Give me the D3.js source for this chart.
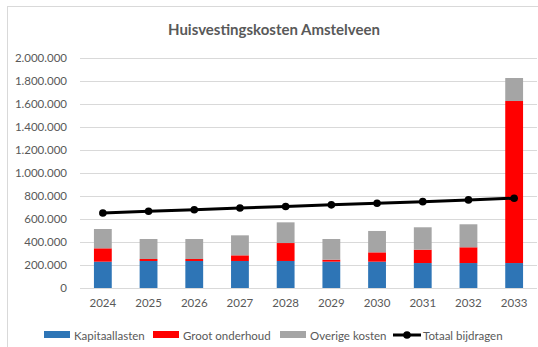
<!DOCTYPE html>
<html>
<head>
<meta charset="utf-8">
<script src="https://cdn.jsdelivr.net/npm/d3@7"></script>
<style>
  html, body { margin: 0; padding: 0; background: #fff; }
  svg { display: block; font-family: Lato, "Open Sans", sans-serif; }
</style>
</head>
<body>
<svg id="chart" width="538" height="347"></svg>
<script>
// Jaren en kostenposten (euro)
const years = ["2024", "2025", "2026", "2027", "2028", "2029", "2030", "2031", "2032", "2033"];
const kapitaallasten = [229000, 235000, 235000, 235000, 235000, 229000, 229000, 217000, 217000, 217000];
const grootOnderhoud = [116000, 17000, 17000, 49000, 156000, 17000, 81000, 116000, 137000, 1409000];
const overigeKosten = [168000, 174000, 174000, 174000, 180000, 180000, 186000, 195000, 200000, 200000];
const totaalBijdragen = [652000, 667000, 681000, 696000, 709000, 723000, 737000, 751000, 766000, 781000];
const yTicks = [0, 200000, 400000, 600000, 800000, 1000000, 1200000, 1400000, 1600000, 1800000, 2000000];

const seriesNames = ["Kapitaallasten", "Groot onderhoud", "Overige kosten"];
const seriesColors = ["#2e75b6", "#ff0000", "#a5a5a5"];

const svg = d3.select("#chart");
const W = 538, H = 347;
const margin = { left: 80, right: 1, top: 58, bottom: 59 };
const labelSize = 11.5;

// chart frame
svg.append("rect")
  .attr("x", 7.5).attr("y", 6.5)
  .attr("width", W + 20).attr("height", H + 20)
  .attr("fill", "#fff").attr("stroke", "#d9d9d9").attr("stroke-width", 1);

const x = d3.scaleBand().domain(years).range([margin.left, W - margin.right]).paddingInner(0.61).paddingOuter(0.305);
const y = d3.scaleLinear().domain([0, 2000000]).range([H - margin.bottom, margin.top]);

const fmt = v => d3.format(",")(v).replace(/,/g, ".");

// gridlines
svg.append("g")
  .selectAll("line").data(yTicks).join("line")
  .attr("x1", margin.left).attr("x2", W - margin.right)
  .attr("y1", d => Math.round(y(d)) + 0.5).attr("y2", d => Math.round(y(d)) + 0.5)
  .attr("stroke", "#d9d9d9").attr("stroke-width", 1);

// y axis labels
const yAxis = d3.axisLeft(y).tickValues(yTicks).tickFormat(fmt).tickSize(0).tickPadding(13);
svg.append("g")
  .attr("transform", `translate(${margin.left},0)`)
  .call(yAxis)
  .call(g => g.select(".domain").remove())
  .call(g => g.selectAll("text").attr("fill", "#595959").attr("font-size", labelSize).attr("font-family", "Lato, sans-serif"));

// stacked bars
const rows = years.map((yr, i) => ({
  year: yr,
  "Kapitaallasten": kapitaallasten[i],
  "Groot onderhoud": grootOnderhoud[i],
  "Overige kosten": overigeKosten[i]
}));
const stacked = d3.stack().keys(seriesNames)(rows);

svg.append("g")
  .selectAll("g").data(stacked).join("g")
  .attr("fill", (d, i) => seriesColors[i])
  .selectAll("rect").data(d => d).join("rect")
  .attr("x", d => x(d.data.year))
  .attr("width", x.bandwidth())
  .attr("y", d => y(d[1]))
  .attr("height", d => y(d[0]) - y(d[1]));

// x axis baseline and labels
svg.append("line")
  .attr("x1", margin.left).attr("x2", W - margin.right)
  .attr("y1", Math.round(y(0)) + 0.5).attr("y2", Math.round(y(0)) + 0.5)
  .attr("stroke", "#d9d9d9");

const xAxis = d3.axisBottom(x).tickSize(0).tickPadding(11);
svg.append("g")
  .attr("transform", `translate(0,${y(0)})`)
  .call(xAxis)
  .call(g => g.select(".domain").remove())
  .call(g => g.selectAll("text").attr("fill", "#595959").attr("font-size", labelSize).attr("font-family", "Lato, sans-serif"));

// total line
const cx = d => x(d) + x.bandwidth() / 2;
const line = d3.line().x((d, i) => cx(years[i])).y(d => y(d));
svg.append("path")
  .datum(totaalBijdragen)
  .attr("d", line)
  .attr("fill", "none").attr("stroke", "#000").attr("stroke-width", 3);
svg.append("g")
  .selectAll("circle").data(totaalBijdragen).join("circle")
  .attr("cx", (d, i) => cx(years[i])).attr("cy", d => y(d))
  .attr("r", 3.8).attr("fill", "#000");

// title
svg.append("text")
  .attr("x", 274).attr("y", 35)
  .attr("text-anchor", "middle")
  .attr("font-size", 15).attr("font-weight", "bold")
  .attr("fill", "#595959")
  .text("Huisvestingskosten Amstelveen");

// legend
const legendY = 335;
const legendItems = [
  { name: "Kapitaallasten", color: seriesColors[0], sx: 44, tx: 74 },
  { name: "Groot onderhoud", color: seriesColors[1], sx: 153, tx: 183 },
  { name: "Overige kosten", color: seriesColors[2], sx: 280, tx: 310 }
];
const lg = svg.append("g");
legendItems.forEach(it => {
  lg.append("rect").attr("x", it.sx).attr("y", legendY - 4).attr("width", 26).attr("height", 7).attr("fill", it.color);
  lg.append("text").attr("x", it.tx).attr("y", legendY + 4.5)
    .attr("font-size", labelSize).attr("fill", "#595959").text(it.name);
});
lg.append("line").attr("x1", 393).attr("x2", 421).attr("y1", legendY).attr("y2", legendY)
  .attr("stroke", "#000").attr("stroke-width", 3);
lg.append("circle").attr("cx", 407).attr("cy", legendY).attr("r", 3.8).attr("fill", "#000");
lg.append("text").attr("x", 423).attr("y", legendY + 4.5)
  .attr("font-size", labelSize).attr("fill", "#595959").text("Totaal bijdragen");
</script>
</body>
</html>
